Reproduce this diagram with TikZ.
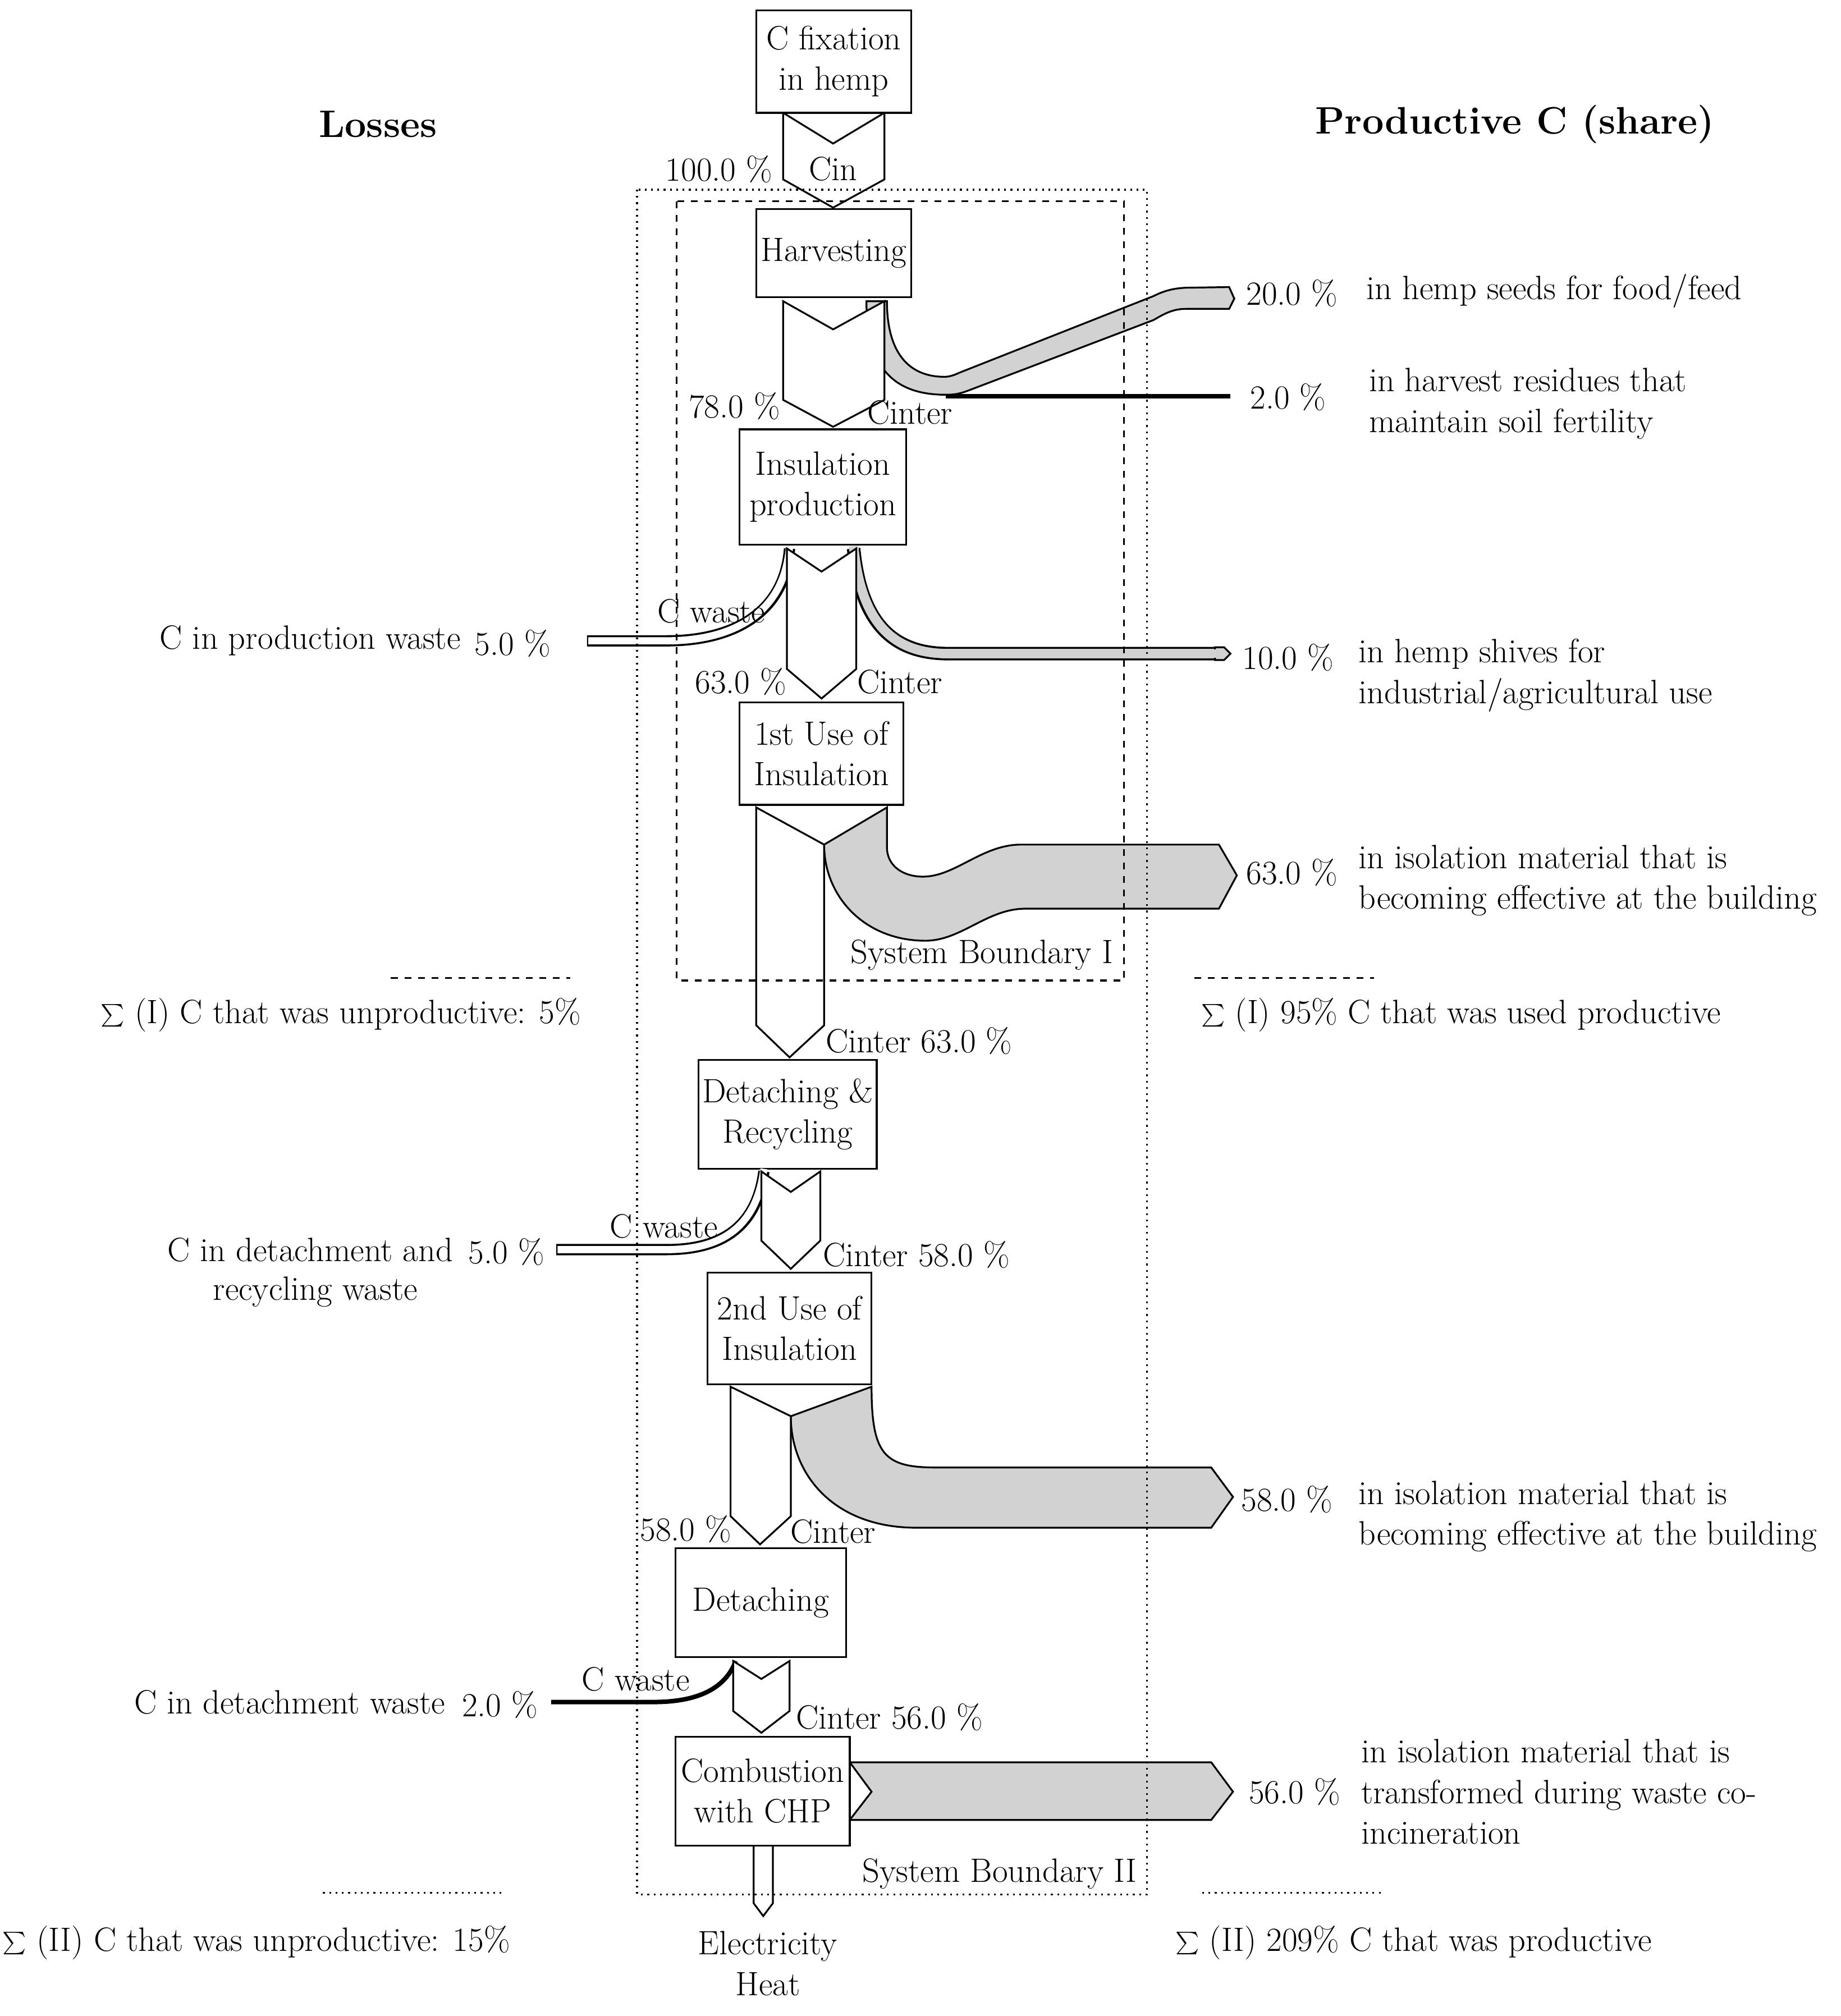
\documentclass[tikz,border=0pt]{standalone}
\begin{document}
\begin{tikzpicture}[x=0.02cm,y=-0.02cm,
  every node/.style={font=\fontsize{15}{18}\selectfont, inner sep=1pt},
  box/.style={draw, thick, fill=white, align=center},
  lbl/.style={align=left, anchor=west},
  arr/.style={draw, thick, fill=white},
  gr/.style={draw, thick, fill=gray!35}]
\useasboundingbox (0,0) rectangle (1436,1573);
% headers
\node[font=\fontsize{17}{20}\selectfont\bfseries] (los) at (295,97) {Losses};
\node[font=\fontsize{17}{20}\selectfont\bfseries] (prod) at (1182,97) {Productive C (share)};
% arrow 1
\path[arr] (611,88) -- (650,112) -- (690,88) -- (690,140) -- (650,162) -- (611,140) -- cycle;
\node (cin) at (650,132) {Cin};
\node (p100) at (561,132) {100.0 \%};
% 20% branch
\path[gr] (676,235) .. controls (676,290) and (700,308) .. (738,308) .. controls (748,308) and (752,306) .. (760,303)
  -- (900,249.7) .. controls (908,245) and (915,241) .. (925,241) -- (959,241) -- (963,233) -- (959,224) -- (925,224.5)
  .. controls (915,225) and (908,227) .. (900,231) -- (748,291) .. controls (744,293) and (740,294) .. (737,294)
  .. controls (705,294) and (692,270) .. (692,235) -- cycle;
\draw[line width=2pt] (738,309) -- (960,309);
% arrow 2
\path[arr] (611,235) -- (650,257) -- (690,235) -- (690,312) -- (650,333) -- (611,312) -- cycle;
\node (p78) at (573,317) {78.0 \%};
\node (ci2) at (710,322) {Cinter};
% boxes
\node[box, minimum width=2.42cm, minimum height=1.6cm] (fix) at (650.5,48) {C fixation\\in hemp};
\node[box, minimum width=2.42cm, minimum height=1.38cm] (harv) at (650.5,197.5) {Harvesting};
\node[box, minimum width=2.6cm, minimum height=1.8cm] (ins) at (642,380) {Insulation\\production};
% branches from arrow 3
\draw[line width=5pt] (616,428) .. controls (612,480) and (570,500) .. (520,500) -- (458,500);
\draw[white, line width=3.2pt] (616,426) .. controls (612,480) and (570,500) .. (520,500) -- (459,500);
\draw[line width=6pt] (666,428) .. controls (672,490) and (700,510) .. (740,510) -- (950,510);
\draw[gray!35, line width=4.2pt] (666,426) .. controls (672,490) and (700,510) .. (740,510) -- (950,510);
\path[gr] (948,505) -- (955,505) -- (960,510) -- (955,515) -- (948,515) -- cycle;
\draw[gray!35, line width=3.9pt] (944,510) -- (955,510);
\path[arr] (614,428) -- (641,446) -- (668,428) -- (668,522) -- (641,545) -- (614,522) -- cycle;
\node (cw1) at (555,477) {C waste};
\node (p63a) at (578,532) {63.0 \%};
\node (ci3) at (702,532) {Cinter};
\node (lpw) at (242,500) {C in production waste};
\node (p5a) at (400,502) {5.0 \%};
\node[box, minimum width=2.56cm, minimum height=1.6cm] (use1) at (641,588) {1st Use of\\Insulation};
% arrow 4
\path[gr] (692,630) -- (692,661) .. controls (692,676) and (705,684) .. (720,684) .. controls (745,684) and (765,660) .. (795,659) -- (951,659) -- (965,683) -- (951,709) -- (800,709) .. controls (770,709) and (750,734) .. (722,734) .. controls (675,734) and (643,700) .. (643,659) -- cycle;
\path[arr] (590,630) -- (643,659) -- (643,800) -- (616,825) -- (590,800) -- cycle;
\node (p63b) at (1008,681) {63.0 \%};
\node (ci4) at (717,812) {Cinter 63.0 \%};
\draw[thick, dashed] (305,763) -- (445,763);
\draw[thick, dashed] (932,763) -- (1072,763);
\node (s1l) at (266,792) {$\textstyle\sum$ (I) C that was unproductive: 5\%};
\node (s1r) at (1140,792) {$\textstyle\sum$ (I) 95\% C that was used productive};
\node[box, minimum width=2.78cm, minimum height=1.7cm] (det1) at (614.5,869.5) {Detaching \&\\Recycling};
% arrow 5
\draw[line width=5pt] (596,914) .. controls (590,960) and (560,975) .. (520,975) -- (434,975);
\draw[white, line width=3.2pt] (596,912) .. controls (590,960) and (560,975) .. (520,975) -- (435,975);
\path[arr] (594,914) -- (617,930) -- (640,914) -- (640,968) -- (617,990) -- (594,968) -- cycle;
\node (cw2) at (518,957) {C waste};
\node (ci5) at (715,979) {Cinter 58.0 \%};
\node (ldw) at (242,975) {C in detachment and};
\node (ldw2) at (246,1008) {recycling waste};
\node (p5b) at (395,977) {5.0 \%};
\node[box, minimum width=2.56cm, minimum height=1.74cm] (use2) at (616,1036.5) {2nd Use of\\Insulation};
% arrow 6
\path[gr] (680,1082) .. controls (680,1135) and (690,1145) .. (730,1145) -- (945,1145) -- (962,1168) -- (945,1192) -- (715,1192) .. controls (650,1192) and (617,1150) .. (617,1105) -- cycle;
\path[arr] (570,1082) -- (617,1105) -- (617,1183) -- (593,1205) -- (570,1183) -- cycle;
\node (p58a) at (535,1193) {58.0 \%};
\node (ci6) at (650,1195) {Cinter};
\node (p58b) at (1004,1170) {58.0 \%};
\node[box, minimum width=2.66cm, minimum height=1.7cm] (det2) at (593.5,1250.5) {Detaching};
% arrow 7
\draw[line width=2pt] (574,1296) .. controls (565,1320) and (540,1328) .. (510,1328) -- (430,1328);
\path[arr] (572,1296) -- (594,1310) -- (616,1296) -- (616,1335) -- (594,1352) -- (572,1335) -- cycle;
\node (cw3) at (496,1310) {C waste};
\node (ci7) at (694,1340) {Cinter 56.0 \%};
\node (ldw3) at (226,1328) {C in detachment waste};
\node (p2b) at (390,1330) {2.0 \%};
% combustion
\path[gr] (663,1375) -- (945,1375) -- (962,1398) -- (945,1420) -- (663,1420) -- (680,1398) -- cycle;
\path[arr] (588,1440) -- (603,1440) -- (603,1485) -- (595.5,1495) -- (588,1485) -- cycle;
\node[box, minimum width=2.72cm, minimum height=1.7cm] (comb) at (595,1397.5) {Combustion\\with CHP};
\node (p56) at (1010,1398) {56.0 \%};
\node[align=center] (elec) at (599,1532) {Electricity\\Heat};
\draw[thick, dotted] (252,1477) -- (392,1477);
\draw[thick, dotted] (938,1477) -- (1078,1477);
\node (s2l) at (200,1516) {$\textstyle\sum$ (II) C that was unproductive: 15\%};
\node (s2r) at (1103,1516) {$\textstyle\sum$ (II) 209\% C that was productive};
% boundaries (on top)
\draw[thick, dotted] (497,148) rectangle (895,1478);
\draw[thick, dashed] (528,157) rectangle (877,765);
\node (sb2) at (780,1462) {System Boundary II};
\node (sb1) at (766,745) {System Boundary I};
% right texts
\node (p20) at (1008,229) {20.0 \%};
\node (p2a) at (1005,310) {2.0 \%};
\node (p10) at (1005,513) {10.0 \%};
\node[lbl] (t1) at (1064,227) {in hemp seeds for food/feed};
\node[lbl, align=left] (t2) at (1066,315) {in harvest residues that\\maintain soil fertility};
\node[lbl, align=left] (t3) at (1058,527) {in hemp shives for\\industrial/agricultural use};
\node[lbl, align=left] (t4) at (1058,687) {in isolation material that is\\becoming effective at the building};
\node[lbl, align=left] (t5) at (1058,1183) {in isolation material that is\\becoming effective at the building};
\node[lbl, align=left] (t6) at (1060,1398) {in isolation material that is\\transformed during waste co-\\incineration};
\end{tikzpicture}
\end{document}
